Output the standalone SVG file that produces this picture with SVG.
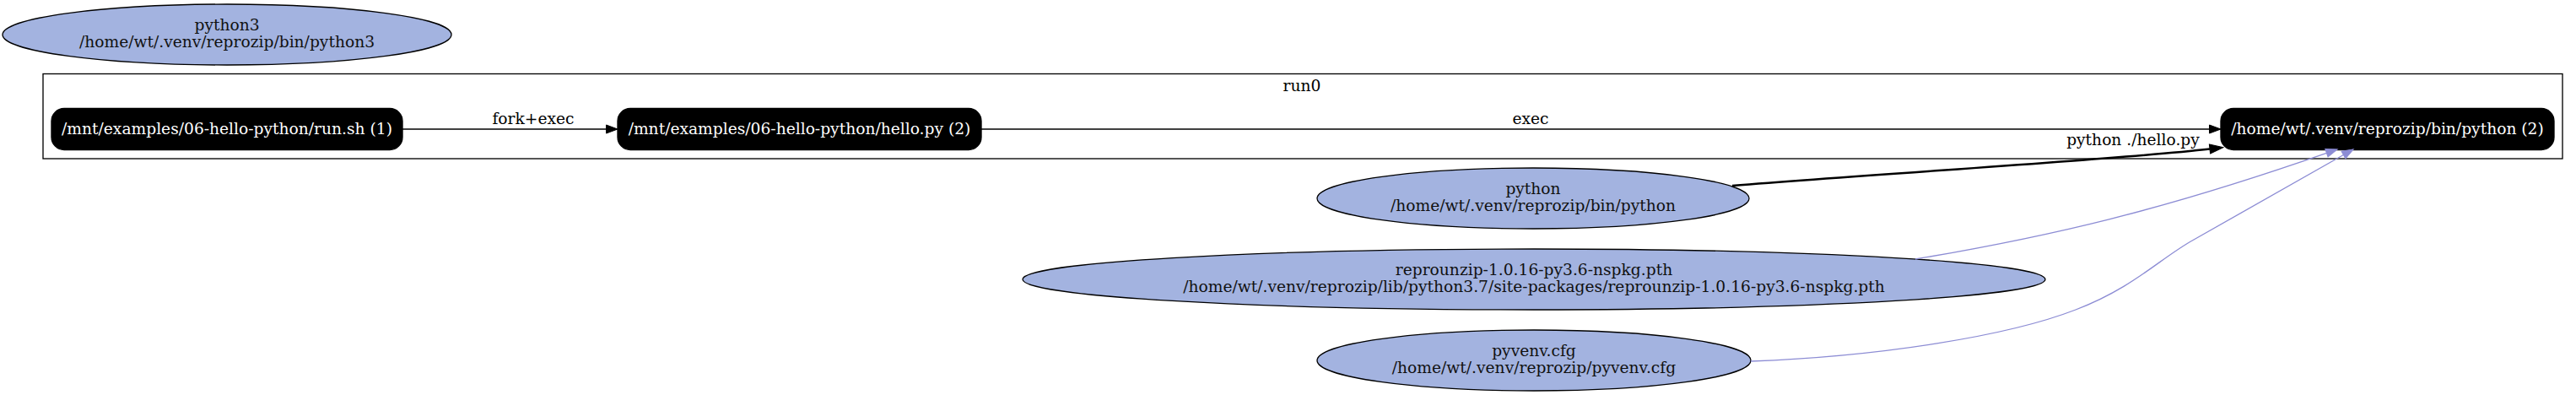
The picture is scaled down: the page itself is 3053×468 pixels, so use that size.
<svg xmlns="http://www.w3.org/2000/svg" width="3053" height="468" viewBox="0 0 3053 468">
<style>
text{font-family:"DejaVu Serif","Liberation Serif",serif;font-size:18.67px;text-anchor:middle}
.file ellipse{fill:#a3b3e0;stroke:#000;stroke-width:1.33}
.file text{fill:#111}
.proc rect{fill:#000;stroke:#000;stroke-width:1.33}
.proc text{fill:#fff}
.cluster rect{fill:none;stroke:#000;stroke-width:1.33}
.e{fill:none;stroke:#000;stroke-width:1.33}
.e.thick{stroke-width:2.4}
.e.blue{stroke:#8c8cd4}
.lbl{fill:#000}
</style>
<defs>
<marker id="ah" markerUnits="userSpaceOnUse" markerWidth="16" markerHeight="12" refX="0" refY="5" orient="auto" overflow="visible">
<path d="M0,0 L13.5,5 L0,10 z" fill="#000" stroke="#000" stroke-width="1"/>
</marker>
<marker id="ahb" markerUnits="userSpaceOnUse" markerWidth="16" markerHeight="12" refX="0" refY="5.5" orient="auto" overflow="visible">
<path d="M0,0 L16,5.5 L0,11 z" fill="#000" stroke="#000" stroke-width="1"/>
</marker>
<marker id="ahblue" markerUnits="userSpaceOnUse" markerWidth="16" markerHeight="12" refX="0" refY="5" orient="auto" overflow="visible">
<path d="M0,0 L13.5,5 L0,10 z" fill="#8c8cd4" stroke="#8c8cd4" stroke-width="1"/>
</marker>
</defs>
<rect x="0" y="0" width="3053" height="468" fill="#fff"/>

<g id="python3" class="file">
<ellipse cx="269" cy="41" rx="266" ry="36"/>
<text x="269" y="35.5">python3</text>
<text x="269" y="56">/home/wt/.venv/reprozip/bin/python3</text>
</g>

<g id="cluster_run0" class="cluster">
<rect x="51" y="87.5" width="2986" height="100.5"/>
<text class="lbl" x="1543" y="108">run0</text>
</g>

<g id="run_sh" class="proc">
<rect x="61" y="128.5" width="416" height="49" rx="15" ry="15"/>
<text x="269" y="158.6">/mnt/examples/06-hello-python/run.sh (1)</text>
</g>

<g id="hello_py" class="proc">
<rect x="732" y="128.5" width="431" height="49" rx="15" ry="15"/>
<text x="947.5" y="158.6">/mnt/examples/06-hello-python/hello.py (2)</text>
</g>

<g id="python_proc" class="proc">
<rect x="2632" y="128.5" width="395" height="49" rx="15" ry="15"/>
<text x="2829.5" y="158.6">/home/wt/.venv/reprozip/bin/python (2)</text>
</g>

<g id="python" class="file">
<ellipse cx="1817" cy="235" rx="256" ry="36"/>
<text x="1817" y="229.5">python</text>
<text x="1817" y="250">/home/wt/.venv/reprozip/bin/python</text>
</g>

<g id="reprounzip_pth" class="file">
<ellipse cx="1818" cy="331" rx="606" ry="36"/>
<text x="1818" y="325.5">reprounzip-1.0.16-py3.6-nspkg.pth</text>
<text x="1818" y="346">/home/wt/.venv/reprozip/lib/python3.7/site-packages/reprounzip-1.0.16-py3.6-nspkg.pth</text>
</g>

<g id="pyvenv_cfg" class="file">
<ellipse cx="1818" cy="427" rx="257" ry="36"/>
<text x="1818" y="421.5">pyvenv.cfg</text>
<text x="1818" y="442">/home/wt/.venv/reprozip/pyvenv.cfg</text>
</g>

<g id="connectors">
<path class="e" d="M477,153 L718.5,153" marker-end="url(#ah)"/>
<text class="lbl" x="632" y="147">fork+exec</text>
<path class="e" d="M1163,153 L2618.5,153" marker-end="url(#ah)"/>
<text class="lbl" x="1814" y="147">exec</text>
<path class="e thick" d="M2053,220 C2250,204 2500,190 2619,176.5" marker-end="url(#ahb)"/>
<text class="lbl" x="2528" y="172">python ./hello.py</text>
<path class="e blue" d="M2270,307 C2430,280 2560,250 2757.4,181.3" marker-end="url(#ahblue)"/>
<path class="e blue" d="M2075,428 C2230,422 2380,398 2460,367 C2530,340 2560,306 2600,284 L2777.4,183.5" marker-end="url(#ahblue)"/>
</g>
</svg>
